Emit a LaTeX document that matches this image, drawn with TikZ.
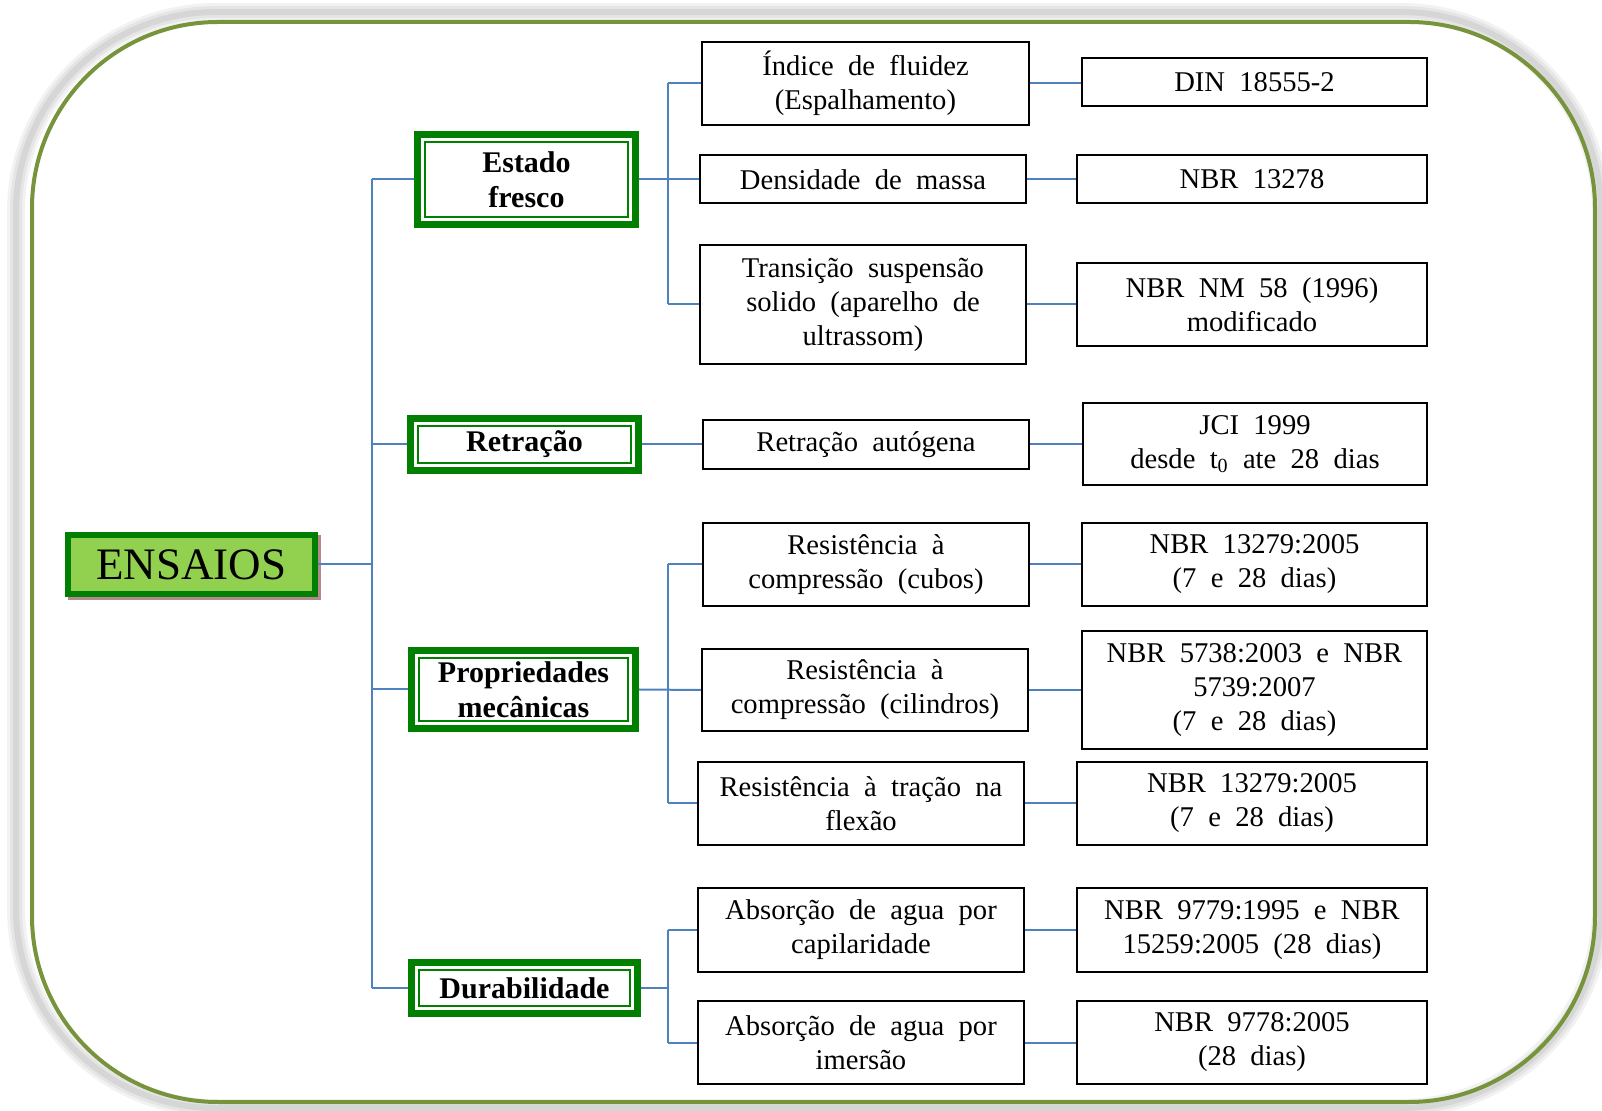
\documentclass[tikz,border=0pt]{standalone}
\usepackage{fontspec}
\setmainfont{Liberation Serif}
\newfontfamily\widefont[WordSpace=2]{Liberation Serif}
\usetikzlibrary{backgrounds}
\definecolor{dkgreen}{HTML}{007F00}
\definecolor{lgreen}{HTML}{92D050}
\definecolor{frameg}{HTML}{77933C}
\definecolor{lblue}{HTML}{4F81BD}
\definecolor{shadowc}{HTML}{B4898D}
\tikzset{
  ltwo/.style={draw=black, line width=1pt, fill=white, align=center, inner sep=0pt,
    font=\widefont\fontsize{14.3}{17}\selectfont},
  lone/.style={draw=dkgreen, line width=3.5pt, fill=white, align=center, inner sep=0pt,
    font=\bfseries\fontsize{15}{17.5}\selectfont},
  loneinner/.style={draw=dkgreen, line width=1pt, fill=none, inner sep=0pt},
  root/.style={draw=dkgreen, line width=3pt, fill=lgreen, inner sep=0pt,
    font=\fontsize{22.5}{24}\selectfont},
  conn/.style={draw=lblue, line width=1pt},
  glow/.style={rounded corners=100pt},
}
\newcommand\lvlone[6]{%
  \node[lone, minimum width=#4pt, minimum height=#5pt] (#1) at (#2,#3) {#6};
  \node[loneinner, minimum width=#4pt-7.5pt, minimum height=#5pt-7.5pt] (#1in) at (#2,#3) {};
}
\begin{document}
\begin{tikzpicture}[x=0.5pt,y=-0.5pt]
\useasboundingbox (0,0) rectangle (1602,1111);

% root
\node[root, minimum width=123.5pt, minimum height=29.5pt] (ens) at (191.5,564.5) {ENSAIOS};

% level 1
\lvlone{fresco}{526.5}{179.5}{109}{45}{Estado\\fresco}
\lvlone{retr}{524.5}{444.5}{114}{26}{Retração}
\lvlone{prop}{523.5}{689.5}{112}{39}{Propriedades\\mecânicas}
\lvlone{dur}{524.5}{988}{113}{25.5}{Durabilidade}

% level 2
\node[ltwo, minimum width=163.5pt, minimum height=41.5pt] (idx) at (865.5,83.5) {Índice de fluidez\\(Espalhamento)};
\node[ltwo, minimum width=163pt, minimum height=24pt] (dens) at (863,179.5) {Densidade de massa};
\node[ltwo, minimum width=163pt, minimum height=59.5pt] (trans) at (863,304.5) {Transição suspensão\\solido (aparelho de\\ultrassom)};
\node[ltwo, minimum width=163pt, minimum height=24.5pt] (autog) at (866,444.5) {Retração autógena};
\node[ltwo, minimum width=163pt, minimum height=41.5pt] (cubos) at (866,564.5) {Resistência à\\compressão (cubos)};
\node[ltwo, minimum width=163pt, minimum height=41pt] (cil) at (865,690) {Resistência à\\compressão (cilindros)};
\node[ltwo, minimum width=163pt, minimum height=41.5pt] (trac) at (861,803.5) {Resistência à tração na\\flexão};
\node[ltwo, minimum width=163pt, minimum height=42pt] (cap) at (861,930) {Absorção de agua por\\capilaridade};
\node[ltwo, minimum width=163pt, minimum height=41.5pt] (imer) at (861,1042.5) {Absorção de agua por\\imersão};

% level 3
\node[ltwo, minimum width=172.5pt, minimum height=24pt] (din) at (1254.5,82) {DIN 18555-2};
\node[ltwo, minimum width=175pt, minimum height=24pt] (n13278) at (1252,179.5) {NBR 13278};
\node[ltwo, minimum width=175pt, minimum height=41.5pt] (nm58) at (1252,304.5) {NBR NM 58 (1996)\\modificado};
\node[ltwo, minimum width=172pt, minimum height=41pt] (jci) at (1255,444) {JCI 1999\\desde t\textsubscript{0} ate 28 dias};
\node[ltwo, minimum width=172.5pt, minimum height=41.5pt] (n13279a) at (1254.5,564.5) {NBR 13279:2005\\(7 e 28 dias)};
\node[ltwo, minimum width=172.5pt, minimum height=59pt] (n5738) at (1254.5,690) {NBR 5738:2003 e NBR\\5739:2007\\(7 e 28 dias)};
\node[ltwo, minimum width=175pt, minimum height=41.5pt] (n13279b) at (1252,803.5) {NBR 13279:2005\\(7 e 28 dias)};
\node[ltwo, minimum width=175pt, minimum height=42pt] (n9779) at (1252,930) {NBR 9779:1995 e NBR\\15259:2005 (28 dias)};
\node[ltwo, minimum width=175pt, minimum height=41.5pt] (n9778) at (1252,1042.5) {NBR 9778:2005\\(28 dias)};

\coordinate (tk) at (372,0);
\coordinate (g) at (668,0);

\begin{scope}[on background layer]
  % frame glow and frame
  \draw[gray!10, line width=9pt, glow] (16,12) rectangle (1601,1108);
  \draw[gray!20, line width=6pt, glow] (16,12) rectangle (1601,1108);
  \draw[gray!32, line width=3pt, glow] (16,12) rectangle (1601,1108);
  \draw[frameg, line width=2pt, rounded corners=93pt] (32,22) rectangle (1595,1102);
  % root shadow (anchors lie on the outer edge of the border)
  \fill[shadowc] ([shift={(1.4pt,-1.6pt)}]ens.south west) rectangle ([shift={(1.4pt,-1.6pt)}]ens.north east);
  % trunk
  \draw[conn] (ens.east) -- (ens.east -| tk);
  \draw[conn] (tk |- fresco.west) -- (tk |- dur.west);
  \draw[conn] (tk |- fresco.west) -- (fresco.west);
  \draw[conn] (tk |- retr.west) -- (retr.west);
  \draw[conn] (tk |- prop.west) -- (prop.west);
  \draw[conn] (tk |- dur.west) -- (dur.west);
  % group fresco
  \draw[conn] (fresco.east) -- (dens.west);
  \draw[conn] (g |- idx.west) -- (g |- trans.west);
  \draw[conn] (g |- idx.west) -- (idx.west);
  \draw[conn] (g |- trans.west) -- (trans.west);
  % retracao
  \draw[conn] (retr.east) -- (autog.west);
  % group propriedades
  \draw[conn] (prop.east) -- (cil.west);
  \draw[conn] (g |- cubos.west) -- (g |- trac.west);
  \draw[conn] (g |- cubos.west) -- (cubos.west);
  \draw[conn] (g |- trac.west) -- (trac.west);
  % group durabilidade
  \draw[conn] (dur.east) -- (dur.east -| g);
  \draw[conn] (g |- cap.west) -- (g |- imer.west);
  \draw[conn] (g |- cap.west) -- (cap.west);
  \draw[conn] (g |- imer.west) -- (imer.west);
  % level 2 to level 3
  \draw[conn] (idx.east) -- (idx.east -| din.west);
  \draw[conn] (dens.east) -- (dens.east -| n13278.west);
  \draw[conn] (trans.east) -- (trans.east -| nm58.west);
  \draw[conn] (autog.east) -- (autog.east -| jci.west);
  \draw[conn] (cubos.east) -- (cubos.east -| n13279a.west);
  \draw[conn] (cil.east) -- (cil.east -| n5738.west);
  \draw[conn] (trac.east) -- (trac.east -| n13279b.west);
  \draw[conn] (cap.east) -- (cap.east -| n9779.west);
  \draw[conn] (imer.east) -- (imer.east -| n9778.west);
\end{scope}
\end{tikzpicture}
\end{document}
